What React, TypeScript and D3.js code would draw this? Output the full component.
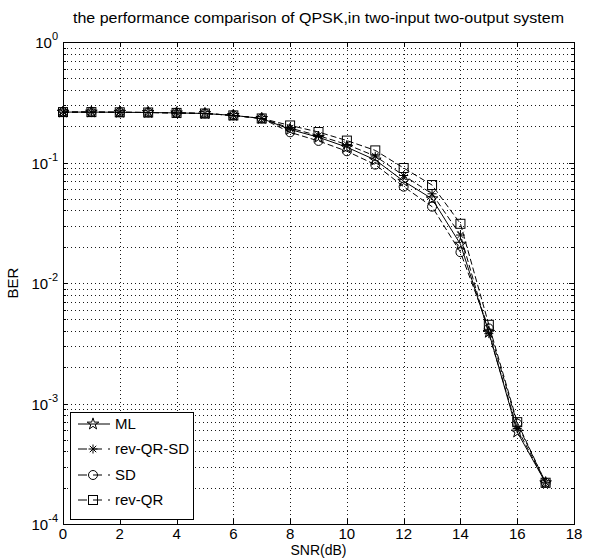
import React from "react";
import * as d3 from "d3";

const snr = [0, 1, 2, 3, 4, 5, 6, 7, 8, 9, 10, 11, 12, 13, 14, 15, 16, 17];
const berML = [0.262, 0.262, 0.261, 0.26, 0.258, 0.255, 0.246, 0.232, 0.188, 0.162, 0.134, 0.105, 0.07, 0.05, 0.021, 0.0039, 0.00058, 0.00022];
const berRevQRSD = [0.262, 0.262, 0.261, 0.26, 0.258, 0.255, 0.246, 0.232, 0.193, 0.167, 0.141, 0.113, 0.078, 0.055, 0.025, 0.0038, 0.00062, 0.00022];
const berSD = [0.262, 0.262, 0.261, 0.26, 0.258, 0.255, 0.246, 0.232, 0.178, 0.151, 0.124, 0.096, 0.063, 0.043, 0.018, 0.0042, 0.00068, 0.00022];
const berRevQR = [0.262, 0.262, 0.261, 0.26, 0.258, 0.255, 0.246, 0.232, 0.203, 0.179, 0.152, 0.126, 0.09, 0.065, 0.031, 0.0045, 0.0007, 0.00022];
const seriesNames = ["ML", "rev-QR-SD", "SD", "rev-QR"];
const seriesMarkers = ["star", "asterisk", "circle", "square"];
const xTicks = [0, 2, 4, 6, 8, 10, 12, 14, 16, 18];
const yExponents = [0, -1, -2, -3, -4];
const titleText = "the performance comparison of QPSK,in two-input two-output system";
const xLabel = "SNR(dB)";
const yLabel = "BER";

const W = 601, H = 559;
const L = 63, R = 574, T = 42, B = 524;
const FONT = "'Liberation Sans', Arial, sans-serif";

function Marker({ kind, cx, cy }: { kind: string; cx: number; cy: number }) {
  const s = 4.5;
  if (kind === "circle") return <circle cx={cx} cy={cy} r={s} fill="none" stroke="#000" strokeWidth={1} />;
  if (kind === "square") return <rect x={cx - s} y={cy - s} width={2 * s} height={2 * s} fill="none" stroke="#000" strokeWidth={1} />;
  if (kind === "asterisk") {
    const d = s * 0.72;
    return (
      <path d={`M${cx - s},${cy}H${cx + s}M${cx},${cy - s}V${cy + s}M${cx - d},${cy - d}L${cx + d},${cy + d}M${cx - d},${cy + d}L${cx + d},${cy - d}`}
        stroke="#000" strokeWidth={1} fill="none" />
    );
  }
  const star = d3.symbol(d3.symbolStar, 42)();
  return <path d={star || ""} transform={`translate(${cx},${cy})`} fill="none" stroke="#000" strokeWidth={1} />;
}

export default function App() {
  const x = d3.scaleLinear().domain([0, 18]).range([L, R]);
  const y = d3.scaleLog().domain([1e-4, 1]).range([B, T]);
  const allSeries = [berML, berRevQRSD, berSD, berRevQR];
  const dashes = ["none", "6,3", "6,3", "6,3"];
  const line = d3.line<number>().x((_, i) => x(snr[i])).y((v) => y(v));

  const minorVals: number[] = [];
  for (let e = -4; e < 0; e++) for (let m = 2; m <= 9; m++) minorVals.push(m * Math.pow(10, e));
  const majorVals = yExponents.map((e) => Math.pow(10, e));

  const legendY = [424, 449, 475, 500];

  return (
    <svg width={W} height={H} style={{ position: "absolute", left: 0, top: 0, background: "#fff" }} fontFamily={FONT}>
      <rect x={0} y={0} width={W} height={H} fill="#fff" />
      {/* grid */}
      <g stroke="#000" strokeWidth={1} strokeDasharray="1,3" opacity={0.9}>
        {[...minorVals, ...majorVals.slice(1, 4)].map((v, i) => (
          <line key={"h" + i} x1={L} x2={R} y1={Math.round(y(v)) + 0.5} y2={Math.round(y(v)) + 0.5} />
        ))}
        {xTicks.slice(1, -1).map((t) => (
          <line key={"v" + t} x1={Math.round(x(t)) + 0.5} x2={Math.round(x(t)) + 0.5} y1={T} y2={B} />
        ))}
      </g>
      {/* ticks */}
      <g stroke="#000" strokeWidth={1}>
        {xTicks.map((t) => {
          const xx = Math.round(x(t)) + 0.5;
          return (
            <g key={"xt" + t}>
              <line x1={xx} x2={xx} y1={B} y2={B - 5} />
              <line x1={xx} x2={xx} y1={T} y2={T + 5} />
            </g>
          );
        })}
        {majorVals.map((v, i) => {
          const yy = Math.round(y(v)) + 0.5;
          return (
            <g key={"yt" + i}>
              <line x1={L} x2={L + 5} y1={yy} y2={yy} />
              <line x1={R} x2={R - 5} y1={yy} y2={yy} />
            </g>
          );
        })}
        {minorVals.map((v, i) => {
          const yy = Math.round(y(v)) + 0.5;
          return (
            <g key={"ym" + i}>
              <line x1={L} x2={L + 3} y1={yy} y2={yy} />
              <line x1={R} x2={R - 3} y1={yy} y2={yy} />
            </g>
          );
        })}
      </g>
      {/* series */}
      {allSeries.map((s, si) => (
        <g key={"s" + si}>
          <path d={line(s) || ""} fill="none" stroke="#000" strokeWidth={1} strokeDasharray={dashes[si]} />
          {s.map((v, i) => (
            <Marker key={i} kind={seriesMarkers[si]} cx={x(snr[i])} cy={y(v)} />
          ))}
        </g>
      ))}
      {/* axes box */}
      <rect x={L + 0.5} y={T + 0.5} width={R - L} height={B - T} fill="none" stroke="#000" strokeWidth={1} />
      {/* tick labels */}
      <g fontSize={15} fill="#000">
        {xTicks.map((t) => (
          <text key={"xl" + t} x={x(t)} y={B + 15} textAnchor="middle">{t}</text>
        ))}
        {yExponents.map((e) => (
          <text key={"yl" + e} x={L - 5} y={y(Math.pow(10, e)) + 6} textAnchor="end">
            10
            <tspan dy={-8} fontSize={11}>{e}</tspan>
          </text>
        ))}
      </g>
      <text x={(L + R) / 2} y={B + 31} textAnchor="middle" fontSize={14}>{xLabel}</text>
      <text transform={`translate(18,${(T + B) / 2}) rotate(-90)`} textAnchor="middle" fontSize={15}>{yLabel}</text>
      <text x={(L + R) / 2} y={23} textAnchor="middle" fontSize={15} textLength={491} lengthAdjust="spacingAndGlyphs">{titleText}</text>
      {/* legend */}
      <rect x={70.5} y={412.5} width={123} height={107} fill="#fff" stroke="#000" strokeWidth={1} />
      {seriesNames.map((n, i) => (
        <g key={"lg" + i}>
          <line x1={78} x2={110} y1={legendY[i]} y2={legendY[i]} stroke="#000" strokeWidth={1} strokeDasharray={i === 0 ? "none" : "9,6"} />
          <Marker kind={seriesMarkers[i]} cx={93} cy={legendY[i]} />
          <text x={115} y={legendY[i] + 5} fontSize={15}>{n}</text>
        </g>
      ))}
    </svg>
  );
}
